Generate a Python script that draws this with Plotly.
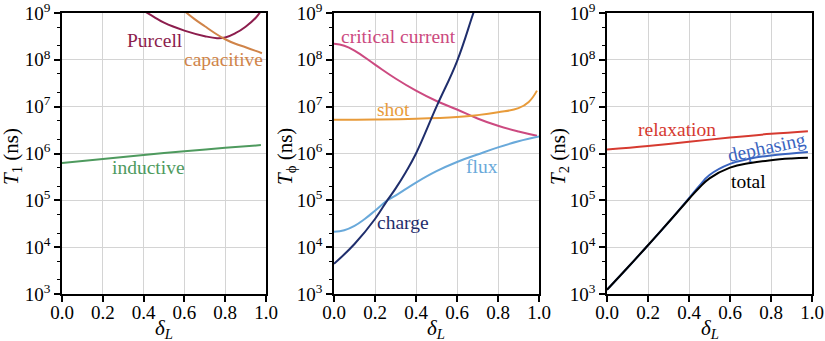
import plotly.graph_objects as go

# ---------------- data ----------------
# Panel 1: T1 contributions
x_inductive = [0.0, 0.2, 0.4, 0.6, 0.8, 0.975]
t1_inductive = [6.3e5, 7.6e5, 9.3e5, 1.12e6, 1.32e6, 1.51e6]

x_purcell = [0.4, 0.45, 0.5, 0.6, 0.7, 0.76, 0.8, 0.85, 0.9, 0.95, 0.98]
t1_purcell = [1.12e9, 8.3e8, 6.2e8, 4.2e8, 3.2e8, 2.9e8, 3.0e8, 3.7e8, 5.1e8, 7.9e8, 1.2e9]

x_capacitive = [0.6, 0.65, 0.7, 0.75, 0.8, 0.85, 0.9, 0.95, 0.98]
t1_capacitive = [1.1e9, 7.4e8, 5.2e8, 3.7e8, 2.75e8, 2.2e8, 1.86e8, 1.55e8, 1.38e8]

# Panel 2: T_phi contributions
x_critical = [0.0, 0.05, 0.1, 0.2, 0.3, 0.4, 0.5, 0.6, 0.7, 0.8, 0.9, 0.99]
tphi_critical = [2.2e8, 2.0e8, 1.58e8, 7.9e7, 4.0e7, 2.2e7, 1.32e7, 8.7e6, 5.6e6, 3.9e6, 2.95e6, 2.4e6]

x_shot = [0.0, 0.2, 0.4, 0.6, 0.7, 0.8, 0.9, 0.95, 0.99]
tphi_shot = [5.25e6, 5.3e6, 5.5e6, 6.0e6, 6.6e6, 7.6e6, 9.3e6, 1.26e7, 2.2e7]

x_charge = [0.0, 0.1, 0.2, 0.26, 0.3, 0.35, 0.4, 0.5, 0.6, 0.68, 0.72]
tphi_charge = [4.4e3, 1.17e4, 4.0e4, 1.0e5, 1.78e5, 4.0e5, 1.0e6, 1.0e7, 9.3e7, 1.0e9, 3.2e9]

x_flux = [0.0, 0.05, 0.1, 0.15, 0.2, 0.26, 0.3, 0.4, 0.5, 0.6, 0.7, 0.8, 0.9, 1.0]
tphi_flux = [2.14e4, 2.3e4, 2.85e4, 4.0e4, 6.0e4, 1.0e5, 1.26e5, 2.4e5, 4.2e5, 6.6e5, 9.5e5, 1.35e6, 1.82e6, 2.3e6]

# Panel 3: T2
x_relax = [0.0, 0.2, 0.4, 0.6, 0.8, 0.98]
t2_relax = [1.22e6, 1.45e6, 1.78e6, 2.19e6, 2.63e6, 3.0e6]

x_t2 = [0.0, 0.1, 0.2, 0.3, 0.4, 0.45, 0.5, 0.6, 0.7, 0.8, 0.9, 0.98]
t2_dephasing = [1.23e3, 3.63e3, 1.1e4, 3.4e4, 1.12e5, 2.04e5, 3.47e5, 6.0e5, 7.8e5, 9.1e5, 1.0e6, 1.07e6]
t2_total = [1.23e3, 3.63e3, 1.1e4, 3.4e4, 1.07e5, 1.86e5, 2.95e5, 5.0e5, 6.3e5, 7.2e5, 7.8e5, 8.1e5]

x_tickvals = [0.0, 0.2, 0.4, 0.6, 0.8, 1.0]
x_ticktext = ["0.0", "0.2", "0.4", "0.6", "0.8", "1.0"]
y_tickvals = [1e3, 1e4, 1e5, 1e6, 1e7, 1e8, 1e9]
y_ticktext = ["10<sup>3</sup>", "10<sup>4</sup>", "10<sup>5</sup>", "10<sup>6</sup>",
              "10<sup>7</sup>", "10<sup>8</sup>", "10<sup>9</sup>"]

# ---------------- figure ----------------
W, H = 825, 341
FONT = "Liberation Serif"

fig = go.Figure()

def add_line(x, y, color, axis_idx, width=2):
    xa = "x" if axis_idx == 1 else f"x{axis_idx}"
    ya = "y" if axis_idx == 1 else f"y{axis_idx}"
    fig.add_trace(go.Scatter(x=x, y=y, mode="lines",
                             line=dict(color=color, width=width, shape="spline", smoothing=1.2),
                             xaxis=xa, yaxis=ya, showlegend=False, hoverinfo="skip"))

C_PURCELL = "#8c1d4d"
C_CAP = "#d08449"
C_IND = "#4e9a5e"
C_CRIT = "#cc4a80"
C_SHOT = "#e89b3a"
C_CHARGE = "#1f2e6c"
C_FLUX = "#69a9da"
C_RELAX = "#d63a30"
C_DEPH = "#3a64bf"
C_TOTAL = "#000000"

add_line(x_inductive, t1_inductive, C_IND, 1)
add_line(x_purcell, t1_purcell, C_PURCELL, 1)
add_line(x_capacitive, t1_capacitive, C_CAP, 1)

add_line(x_critical, tphi_critical, C_CRIT, 2)
add_line(x_shot, tphi_shot, C_SHOT, 2)
add_line(x_flux, tphi_flux, C_FLUX, 2)
add_line(x_charge, tphi_charge, C_CHARGE, 2)

add_line(x_relax, t2_relax, C_RELAX, 3)
add_line(x_t2, t2_dephasing, C_DEPH, 3)
add_line(x_t2, t2_total, C_TOTAL, 3)

px_domains = [(62, 266), (334, 539), (607, 812)]
y_top, y_bot = 13, 294

common_x = dict(range=[0, 1], tickvals=x_tickvals, ticktext=x_ticktext, automargin=False,
                ticklabeloverflow="allow",
                showline=True, linecolor="black", linewidth=1.5, mirror=True,
                ticks="outside", ticklen=6, tickwidth=1.5, tickcolor="black",
                ticklabelstandoff=-6,
                showgrid=True, gridcolor="#d4d4d4", gridwidth=1, zeroline=False,
                tickfont=dict(family=FONT, size=19, color="black"))
common_y = dict(type="log", range=[3, 9], tickvals=y_tickvals, ticktext=y_ticktext, automargin=False,
                ticklabeloverflow="allow",
                showline=True, linecolor="black", linewidth=1.5, mirror=True,
                ticks="outside", ticklen=6, tickwidth=1.5, tickcolor="black",
                ticklabelstandoff=0,
                minor=dict(ticks="outside", ticklen=3, tickwidth=1, tickcolor="black", showgrid=False),
                showgrid=True, gridcolor="#d4d4d4", gridwidth=1, zeroline=False,
                tickfont=dict(family=FONT, size=19, color="black"))

layout = dict(width=W, height=H, margin=dict(l=0, r=0, t=0, b=0, autoexpand=False),
              paper_bgcolor="white", plot_bgcolor="white",
              font=dict(family=FONT, size=19, color="black"))
for i, (a, b) in enumerate(px_domains, start=1):
    kx = "xaxis" if i == 1 else f"xaxis{i}"
    ky = "yaxis" if i == 1 else f"yaxis{i}"
    xa = dict(common_x, domain=[a / W, b / W], anchor="y" if i == 1 else f"y{i}")
    ya = dict(common_y, domain=[1 - y_bot / H, 1 - y_top / H], anchor="x" if i == 1 else f"x{i}")
    layout[kx] = xa
    layout[ky] = ya
fig.update_layout(**layout)

def ann(text, px, py, color="black", size=19.5, angle=0):
    fig.add_annotation(text=text, x=px / W, y=1 - py / H, xref="paper", yref="paper",
                       showarrow=False, xanchor="center", yanchor="middle", textangle=angle,
                       font=dict(family=FONT, size=size, color=color))

# curve labels
ann("Purcell", 155, 40, C_PURCELL)
ann("capacitive", 223, 59, C_CAP)
ann("inductive", 148, 167, C_IND)
ann("critical current", 398, 36, C_CRIT)
ann("shot", 393, 110, C_SHOT)
ann("flux", 482, 166, C_FLUX)
ann("charge", 403, 222, C_CHARGE)
ann("relaxation", 677, 129, C_RELAX)
ann("dephasing", 766, 147, C_DEPH, angle=-12)
ann("total", 748, 181, C_TOTAL)

# axis titles
ann("<i>T</i><sub>1</sub> (ns)", 12, 157, size=21, angle=-90)
ann("<i>T</i><sub>ϕ</sub> (ns)", 286, 157, size=21, angle=-90)
ann("<i>T</i><sub>2</sub> (ns)", 559, 157, size=21, angle=-90)
for a, b in px_domains:
    ann("<i>δ</i><sub><i>L</i></sub>", (a + b) / 2, 329, size=21)

fig.write_html("out.html")
